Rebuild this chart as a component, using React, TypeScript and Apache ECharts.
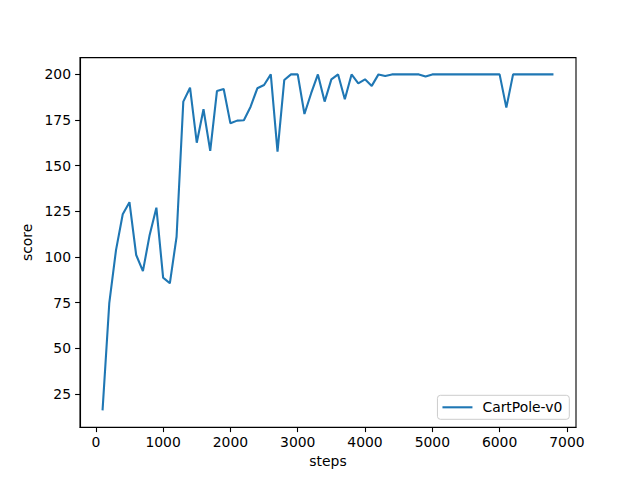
import React, { useEffect, useRef } from "react";
import * as echarts from "echarts";

const steps: number[] = [
  100, 200, 300, 400, 500, 600, 700, 800, 900, 1000,
  1100, 1200, 1300, 1400, 1500, 1600, 1700, 1800, 1900, 2000,
  2100, 2200, 2300, 2400, 2500, 2600, 2700, 2800, 2900, 3000,
  3100, 3200, 3300, 3400, 3500, 3600, 3700, 3800, 3900, 4000,
  4100, 4200, 4300, 4400, 4500, 4600, 4700, 4800, 4900, 5000,
  5100, 5200, 5300, 5400, 5500, 5600, 5700, 5800, 5900, 6000,
  6100, 6200, 6300, 6400, 6500, 6600, 6700, 6800,
];

const scores: number[] = [
  16, 74.7, 103.8, 123.4, 130, 101.1, 92.3, 112.1, 127, 88.7,
  85.6, 111.1, 185.1, 192.7, 162.6, 180.9, 158.1, 190.9, 192, 173.2,
  174.7, 174.9, 182.3, 192.4, 194.2, 200, 157.7, 196.9, 200, 200,
  178.3, 189.7, 200, 185.1, 197.3, 200, 186.4, 200, 195.1, 197.3,
  193.7, 200, 199.1, 200, 200, 200, 200, 200, 198.8, 200,
  200, 200, 200, 200, 200, 200, 200, 200, 200, 200,
  181.8, 200, 200, 200, 200, 200, 200, 200,
];

const xTicks: number[] = [0, 1000, 2000, 3000, 4000, 5000, 6000, 7000];
const yTicks: number[] = [25, 50, 75, 100, 125, 150, 175, 200];

const seriesName = "CartPole-v0";
const xLabel = "steps";
const yLabel = "score";

export default function App() {
  const ref = useRef<HTMLDivElement>(null);

  useEffect(() => {
    if (!ref.current) return;
    const chart = echarts.init(ref.current, null, { renderer: "svg" });
    const font = "DejaVu Sans";
    const fs = 13.9;
    const xMin = -235;
    const xMax = 7135;
    const yMin = 6.8;
    const yMax = 209.2;
    chart.setOption({
      animation: false,
      backgroundColor: "#ffffff",
      textStyle: { fontFamily: font, color: "#000" },
      grid: {
        left: 80,
        right: 64,
        top: 57.6,
        bottom: 52.8,
        show: true,
        borderColor: "#000",
        borderWidth: 1.1,
        backgroundColor: "transparent",
        containLabel: false,
      },
      legend: {
        data: [{ name: seriesName, icon: "rect" }],
        right: 70.7,
        bottom: 60.7,
        orient: "vertical",
        padding: [4, 7, 4, 5],
        itemWidth: 30,
        itemHeight: 2.1,
        itemGap: 0,
        borderColor: "#cccccc",
        borderWidth: 1,
        borderRadius: 3,
        backgroundColor: "rgba(255,255,255,0.8)",
        textStyle: { fontFamily: font, fontSize: fs, color: "#000", padding: [0, 0, 0, 5], lineHeight: 16 },
      },
      xAxis: {
        type: "value",
        min: xMin,
        max: xMax,
        name: xLabel,
        nameLocation: "middle",
        nameGap: 27,
        nameTextStyle: { fontFamily: font, fontSize: fs, color: "#000" },
        splitLine: { show: false },
        axisLine: { show: true, onZero: false, lineStyle: { color: "#000", width: 1.1 } },
        axisTick: {
          show: true,
          inside: false,
          length: 4.9,
          lineStyle: { color: "#000", width: 1.1 },
          customValues: xTicks,
        },
        axisLabel: {
          fontFamily: font,
          fontSize: fs,
          color: "#000",
          margin: 8,
          customValues: xTicks,
          formatter: (v: number) => String(v),
        },
      },
      yAxis: {
        type: "value",
        min: yMin,
        max: yMax,
        name: yLabel,
        nameLocation: "middle",
        nameGap: 42,
        nameRotate: 90,
        nameTextStyle: { fontFamily: font, fontSize: fs, color: "#000" },
        splitLine: { show: false },
        axisLine: { show: true, onZero: false, lineStyle: { color: "#000", width: 1.1 } },
        axisTick: {
          show: true,
          inside: false,
          length: 4.9,
          lineStyle: { color: "#000", width: 1.1 },
          customValues: yTicks,
        },
        axisLabel: {
          fontFamily: font,
          fontSize: fs,
          color: "#000",
          margin: 9,
          customValues: yTicks,
          formatter: (v: number) => String(v),
        },
      },
      series: [
        {
          name: seriesName,
          type: "line",
          data: steps.map((s, i) => [s, scores[i]]),
          showSymbol: false,
          symbol: "none",
          color: "#1f77b4",
          lineStyle: { color: "#1f77b4", width: 2.1 },
          emphasis: { disabled: true },
        },
      ],
    });
    return () => chart.dispose();
  }, []);

  return <div ref={ref} style={{ width: 640, height: 480, position: "absolute", left: 0, top: 0 }} />;
}
